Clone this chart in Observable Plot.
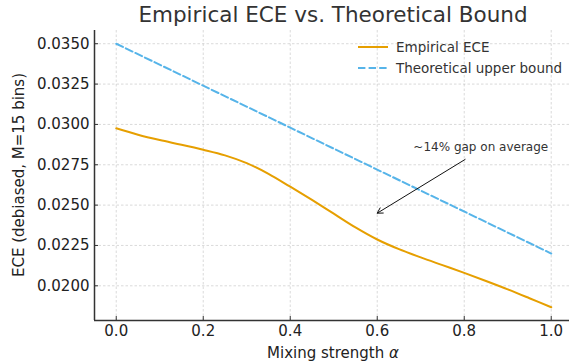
<!DOCTYPE html>
<html><head><meta charset="utf-8">
<script src="https://cdn.jsdelivr.net/npm/d3@7"></script>
<script src="https://cdn.jsdelivr.net/npm/@observablehq/plot@0.6"></script>
<style>body{margin:0;background:#fff;font-family:"DejaVu Sans",sans-serif}</style>
</head><body><div id="chart"></div>
<script>
const alphas = [0,0.05,0.1,0.15,0.2,0.25,0.3,0.35,0.4,0.45,0.5,0.55,0.6,0.65,0.7,0.75,0.8,0.85,0.9,0.95,1.0];
const empirical = [0.02976,0.02936,0.02903,0.02874,0.02843,0.02808,0.02760,0.02694,0.02614,0.02532,0.02447,0.02362,0.02287,0.02227,0.02176,0.02128,0.02080,0.02030,0.01978,0.01923,0.01867];
const boundAlphas = [0,1];
const bound = [0.035,0.022];
const xTicks = [0,0.2,0.4,0.6,0.8,1.0];
const yTicks = [0.0200,0.0225,0.0250,0.0275,0.0300,0.0325,0.0350];
const annotText = "~14% gap on average";
const annot = {textX:0.838, textY:0.02853, fromX:0.802, fromY:0.02783, toX:0.6, toY:0.0245};
const seriesNames = ["Empirical ECE","Theoretical upper bound"];
const colors = ["#E69F00","#56B4E9"];
const xDomain = [-0.05,1.042];
const yDomain = [0.01785,0.03582];

const empData = alphas.map((a,i)=>({a, v: empirical[i]}));
const bndData = boundAlphas.map((a,i)=>({a, v: bound[i]}));

const plot = Plot.plot({
  width: 569, height: 364,
  marginLeft: 94, marginRight: 0, marginTop: 30, marginBottom: 44,
  style: {fontFamily: "DejaVu Sans", fontSize: "15px", color: "#222", background: "#fff"},
  x: {domain: xDomain},
  y: {domain: yDomain},
  marks: [
    Plot.gridX(xTicks, {stroke: "#b0b0b0", strokeOpacity: 0.6, strokeDasharray: "2.5,2", strokeWidth: 0.8}),
    Plot.gridY(yTicks, {stroke: "#b0b0b0", strokeOpacity: 0.6, strokeDasharray: "2.5,2", strokeWidth: 0.8}),
    Plot.axisX(xTicks, {tickSize: -4, tickPadding: 9, tickFormat: d3.format(".1f"), label: null, fontSize: 15, stroke: "#333"}),
    Plot.axisY(yTicks, {tickSize: -4, tickPadding: 9, tickFormat: d3.format(".4f"), label: null, fontSize: 15, stroke: "#333"}),
    Plot.ruleX([xDomain[0]], {stroke: "#333", strokeWidth: 1.5}),
    Plot.ruleY([yDomain[0]], {stroke: "#333", strokeWidth: 1.5}),
    Plot.line(bndData, {x: "a", y: "v", stroke: colors[1], strokeWidth: 2, strokeDasharray: "7.4,3.2"}),
    Plot.line(empData, {x: "a", y: "v", stroke: colors[0], strokeWidth: 2, curve: "catmull-rom"}),
    Plot.arrow([annot], {x1: "fromX", y1: "fromY", x2: "toX", y2: "toY", stroke: "#111", strokeWidth: 1, headLength: 9, bend: 0}),
    Plot.text([annot], {x: "textX", y: "textY", text: () => annotText, fontSize: 12, fill: "#333", textAnchor: "middle", lineAnchor: "bottom", dy: 3})
  ]
});

const svg = d3.select(plot);
// Title
svg.append("text").attr("x", 333).attr("y", 22).attr("text-anchor", "middle")
  .attr("font-size", 21.5).attr("fill", "#333").text("Empirical ECE vs. Theoretical Bound");
// X label
const xl = svg.append("text").attr("x", 333).attr("y", 358).attr("text-anchor", "middle")
  .attr("font-size", 15).attr("fill", "#222");
xl.append("tspan").text("Mixing strength ");
xl.append("tspan").attr("font-style", "italic").text("α");
// Y label
svg.append("text").attr("transform", "translate(24,175) rotate(-90)").attr("text-anchor", "middle")
  .attr("font-size", 15).attr("fill", "#222").text("ECE (debiased, M=15 bins)");
// Legend
const lg = svg.append("g").attr("text-anchor", "start");
seriesNames.forEach((n,i)=>{
  const y = 47 + i*21;
  lg.append("line").attr("x1", 358).attr("x2", 388).attr("y1", y).attr("y2", y)
    .attr("stroke", colors[i]).attr("stroke-width", 2)
    .attr("stroke-dasharray", i === 1 ? "7.4,3.2" : null);
  lg.append("text").attr("x", 396).attr("y", y).attr("dy", "0.35em").attr("text-anchor", "start")
    .attr("font-size", 13.5).attr("fill", "#333").text(n);
});
document.getElementById("chart").appendChild(plot);
</script></body></html>
